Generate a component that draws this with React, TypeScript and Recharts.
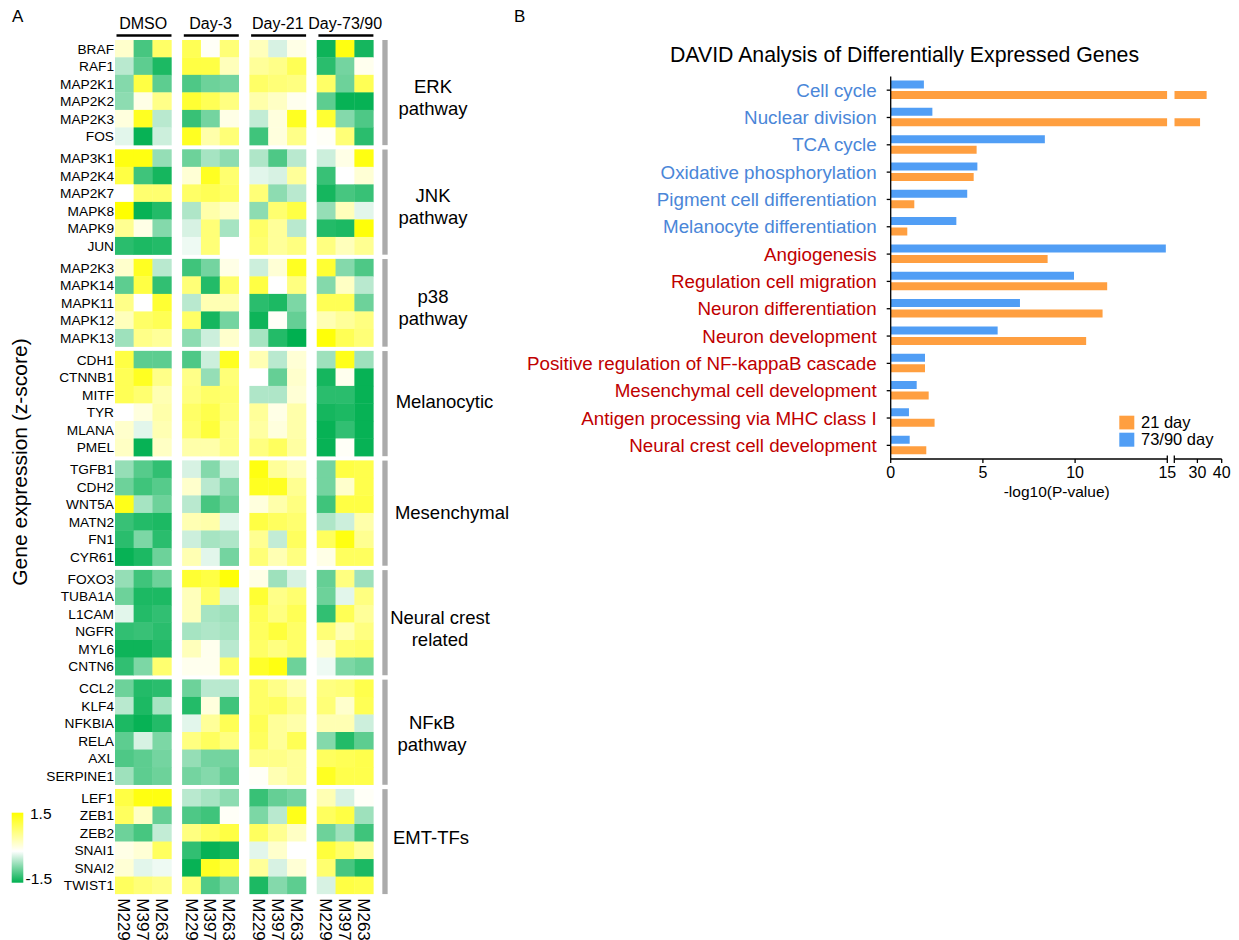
import React from 'react';
import { ScatterChart, Scatter, XAxis, YAxis, BarChart, Bar } from 'recharts';

const FONT = '"Liberation Sans", Arial, Helvetica, sans-serif';

// ---------------- Panel A data ----------------
const conditions = ['DMSO', 'Day-3', 'Day-21', 'Day-73/90'];
const samples = ['M229', 'M397', 'M263'];
const pathwayLabels = [
  ['ERK', 'pathway'],
  ['JNK', 'pathway'],
  ['p38', 'pathway'],
  ['Melanocytic'],
  ['Mesenchymal'],
  ['Neural crest', 'related'],
  ['NFκB', 'pathway'],
  ['EMT-TFs'],
];

const erkGenes = ['BRAF', 'RAF1', 'MAP2K1', 'MAP2K2', 'MAP2K3', 'FOS'];
const erkValues = [
  [0.3, -1.0, 0.9, 1.0, 0.05, 0.8, 0.4, -0.15, 0.15, -1.4, 1.4, -1.35],
  [-0.3, -0.85, -1.3, 1.1, 1.1, 0.4, 0.6, 0.7, 1.0, -1.2, -0.7, 0.1],
  [-0.6, 1.1, -0.85, -0.95, -0.75, -0.7, 0.9, 0.8, 0.75, 0.9, -0.75, 1.0],
  [-0.55, 0.15, 0.7, 1.2, 1.0, 0.75, 0.5, 0.35, 0.1, -0.85, -1.45, -1.45],
  [0.2, 1.3, -0.3, -1.1, -0.7, 0.15, -0.25, 0.2, 1.3, 1.2, -0.6, -0.95],
  [-0.1, -1.45, -0.2, 1.3, 0.5, 0.8, -1.05, 0.2, 0.7, 0.05, 0.8, -1.2],
];

const jnkGenes = ['MAP3K1', 'MAP2K4', 'MAP2K7', 'MAPK8', 'MAPK9', 'JUN'];
const jnkValues = [
  [1.4, 1.4, -0.5, -0.75, -0.4, -0.55, -0.35, -0.95, -0.3, -0.2, 0.15, 1.4],
  [1.1, -1.05, -1.35, 0.25, 1.3, 0.85, -0.1, -0.15, 0.6, -1.1, 0, 0.25],
  [0, 0.85, 0.85, 0.9, 1.0, 0.9, 0.8, -0.55, -0.3, -1.35, -1.0, -1.1],
  [1.5, -1.45, -1.25, -0.35, 0.5, 0.35, -0.55, 0.85, 1.1, -0.5, 0.4, -0.1],
  [0.65, 0.15, -0.6, -0.15, 0.8, -0.4, 0.9, 0.6, -0.3, -1.25, -1.3, 1.45],
  [-1.2, -1.3, -1.25, -0.05, 0.8, 0, 0.85, 0.6, 0.75, 0.75, 0.4, 0.65],
];

const p38Genes = ['MAP2K3', 'MAPK14', 'MAPK11', 'MAPK12', 'MAPK13'];
const p38Values = [
  [0.3, 1.3, -0.3, -1.05, -0.7, 0.15, -0.2, 0.25, 1.3, 1.2, -0.6, -0.95],
  [-0.85, 1.1, -1.15, 0.8, -1.25, 0.9, 1.1, 0, 0.75, -0.6, 0.35, -0.3],
  [0.7, 0, 1.2, -0.3, 0.45, 0.45, -1.2, -1.3, -0.65, 1.0, 1.0, -0.75],
  [0.4, 0.9, 1.0, 0.9, -1.35, -0.7, -1.4, 0.05, -0.8, 0.45, 0.6, 0.75],
  [-0.45, 0.7, 0.6, -0.55, -0.2, 0.3, -0.4, -1.25, -1.5, 1.45, 1.0, 0.8],
];

const melanocyticGenes = ['CDH1', 'CTNNB1', 'MITF', 'TYR', 'MLANA', 'PMEL'];
const melanocyticValues = [
  [1.1, -0.85, -0.85, -0.95, -0.2, 1.3, 0.45, -0.3, 0.25, -0.45, 1.35, -0.45],
  [1.0, 1.3, 0.7, 0.7, -0.5, 0.8, 0, -0.8, 0.3, -1.35, 0.1, -1.45],
  [1.0, 0.85, 0.45, 0.75, 0.9, 0.85, -0.35, -0.35, 0.25, -1.2, -1.2, -1.45],
  [0, 0.2, 0.5, 0.9, 1.05, 0.8, 0.6, 0.15, 0.5, -1.35, -1.3, -1.45],
  [0.3, -0.1, 0.45, 0.85, 1.15, 0.7, 0.55, 0.2, 0.5, -1.45, -1.15, -1.45],
  [0.35, -1.45, 0.35, 0.5, 0.5, 0.7, 0.75, 0.95, 0.55, -1.45, 0.05, -1.45],
];

const mesenchymalGenes = ['TGFB1', 'CDH2', 'WNT5A', 'MATN2', 'FN1', 'CYR61'];
const mesenchymalValues = [
  [-0.5, -0.9, -1.15, -0.15, -0.6, -0.2, 1.4, 0.6, 0.4, -0.7, 1.1, 1.05],
  [-0.75, -1.05, -0.9, 0.3, -0.3, -0.6, 1.3, 1.3, 0.65, -0.7, 0.3, 1.05],
  [1.35, -0.4, -0.75, -0.3, -1.0, -0.75, 0.2, 0.5, 0.75, -1.05, 1.1, 1.1],
  [-1.1, -1.25, -1.3, 0.45, 0.5, -0.1, 1.1, 0.95, 0.85, -0.35, -0.2, 0.5],
  [-1.2, -0.65, -1.2, -0.2, -0.4, -0.35, 0.65, -0.25, 0.95, 0.95, 1.4, 0.65],
  [-1.45, -1.3, -0.75, 0.45, -0.1, -0.7, 0.8, 0.45, 0.75, 0.15, 0.95, 0.95],
];

const neuralCrestGenes = ['FOXO3', 'TUBA1A', 'L1CAM', 'NGFR', 'MYL6', 'CNTN6'];
const neuralCrestValues = [
  [-0.5, -1.05, -0.75, 1.2, 1.1, 1.45, 0.15, -0.45, -0.15, -0.8, 0.75, -0.45],
  [-0.75, -1.3, -1.3, 0.4, 0.9, -0.15, 1.2, 0.7, 0.85, -0.75, -0.1, 0.75],
  [-0.1, -1.25, -1.15, 0.4, -0.4, -0.45, 1.0, 0.75, 1.0, -1.15, 1.0, 0.6],
  [-1.15, -1.1, -1.2, -0.4, -0.35, -0.4, 0.95, 1.15, 0.9, 0.8, 0.45, 0.75],
  [-1.4, -1.4, -1.25, 0.4, 0.1, -0.3, 0.9, 0.75, 0.9, 0.3, 0.85, 0.9],
  [-1.15, -0.65, 0.85, 0.1, 0.1, 0.9, 1.25, 1.4, -0.75, -0.05, -0.65, -0.75],
];

const nfkbGenes = ['CCL2', 'KLF4', 'NFKBIA', 'RELA', 'AXL', 'SERPINE1'];
const nfkbValues = [
  [-0.75, -1.25, -1.2, -0.75, -0.3, -0.3, 0.9, 0.7, 0.45, 0.75, 0.8, 1.05],
  [-0.3, -1.3, -0.4, -1.25, 0.2, -1.05, 0.9, 0.95, 0.7, 0.8, 0.3, 1.0],
  [-1.3, -1.45, -1.25, -0.1, 0.6, 1.0, 1.0, 0.6, 0.5, 0.45, 0.45, -0.2],
  [-0.85, -0.15, -0.65, 0.75, 0.95, 0.75, 0.95, 0.6, 1.0, -0.6, -1.25, -0.85],
  [-0.95, -0.85, -0.7, -0.5, -0.7, -0.7, 0.7, 0.7, 0.6, 0.95, 1.0, 1.05],
  [-0.45, -0.85, -0.75, -0.7, -0.6, -0.8, 0.05, 0.45, 0.6, 1.3, 1.05, 1.05],
];

const emtGenes = ['LEF1', 'ZEB1', 'ZEB2', 'SNAI1', 'SNAI2', 'TWIST1'];
const emtValues = [
  [1.1, 1.4, 1.4, -0.3, -0.4, -0.55, -1.1, -0.8, -0.7, 0.45, -0.15, 0.05],
  [0.95, 0.35, -0.8, -0.95, -1.05, 0.05, -0.65, -0.3, 1.35, 0.95, 1.1, -0.45],
  [-0.75, -1.0, -0.25, 0.75, 0.95, 1.1, 0.95, 0.65, 0.35, -0.75, -0.45, -1.05],
  [0.15, 0.25, 0.95, -1.15, -1.45, -1.35, -0.1, 0.3, 0, 1.15, 0.9, 0.6],
  [0.25, -0.1, -0.05, -1.45, 1.3, 1.1, 0.6, -0.15, 0.25, 0.85, -1.0, -1.3],
  [0.95, 0.8, 0.7, 0.8, -0.95, -0.7, -1.3, -0.6, -0.85, -0.15, 1.1, 1.05],
];

const geneGroups = [
  { genes: erkGenes, values: erkValues },
  { genes: jnkGenes, values: jnkValues },
  { genes: p38Genes, values: p38Values },
  { genes: melanocyticGenes, values: melanocyticValues },
  { genes: mesenchymalGenes, values: mesenchymalValues },
  { genes: neuralCrestGenes, values: neuralCrestValues },
  { genes: nfkbGenes, values: nfkbValues },
  { genes: emtGenes, values: emtValues },
];

// ---------------- Panel B data ----------------
const goTerms = [
  'Cell cycle',
  'Nuclear division',
  'TCA cycle',
  'Oxidative phosphorylation',
  'Pigment cell differentiation',
  'Melanocyte differentiation',
  'Angiogenesis',
  'Regulation cell migration',
  'Neuron differentiation',
  'Neuron development',
  'Positive regulation of NF-kappaB cascade',
  'Mesenchymal cell development',
  'Antigen processing via MHC class I',
  'Neural crest cell development',
];
const day21Values = [33.8, 31.1, 4.66, 4.5, 1.28, 0.9, 8.51, 11.74, 11.49, 10.6, 1.86, 2.06, 2.38, 1.93];
const day7390Values = [1.8, 2.26, 8.36, 4.7, 4.15, 3.56, 14.92, 9.94, 7.01, 5.8, 1.86, 1.41, 0.99, 1.03];
const downregulatedTermCount = 6; // first terms are drawn in blue text
const lowAxisTicks = [0, 5, 10, 15];
const highAxisTicks = [20.5, 30, 40];

// ---------------- styles / layout constants ----------------
const ROW_GAP = 0.25;
const GROUP_STRIDE = 3.575;
const X_MAX = 14.5;
const BAR_X = 14.34;
const CELL_W = 18.83;
const CELL_H = 17.524;
const BLUE = '#519EF5';
const ORANGE = '#FF9F40';
const BLUE_TEXT = '#4A86D8';
const RED_TEXT = '#C00000';
const pathwayLabelDx = [45, 45, 45, 56.5, 64, 52, 44, 43];
const pathwayLabelDy = [0, 0, 0, 4, 6, 1, -3, 2];

const key = (v: number) => v.toFixed(3);

const heatColor = (v: number) => {
  const t = Math.max(-1, Math.min(1, v / 1.5));
  if (t >= 0) {
    return `rgb(255,255,${Math.round(255 * (1 - t))})`;
  }
  const a = Math.pow(-t, 0.8);
  return `rgb(${Math.round(255 - 255 * a)},${Math.round(255 - 79 * a)},${Math.round(255 - 175 * a)})`;
};

// build heatmap structures
const heatCells: any[] = [];
const geneTicks: number[] = [];
const geneTickNames = new Map<string, string>();
const groupTicks: number[] = [];
const groupTickLabels = new Map<string, number>();
const grayBars: any[] = [];
let cursor = 0;
geneGroups.forEach((grp, gi) => {
  grp.genes.forEach((gene, ri) => {
    const yc = cursor + ri + 0.5;
    geneTicks.push(yc);
    geneTickNames.set(key(yc), gene);
    grp.values[ri].forEach((v, k) => {
      const cond = Math.floor(k / 3);
      const s = k % 3;
      heatCells.push({ x: cond * GROUP_STRIDE + s + 0.5, y: yc, v, gene, sample: samples[s], condition: conditions[cond] });
    });
  });
  const center = cursor + grp.genes.length / 2;
  groupTicks.push(center);
  groupTickLabels.set(key(center), gi);
  grayBars.push({ x: BAR_X, y: center, n: grp.genes.length });
  cursor += grp.genes.length + ROW_GAP;
});
const Y_MAX = cursor - ROW_GAP;

const sampleTicks: number[] = [];
const sampleTickNames = new Map<string, string>();
const headerTicks: number[] = [];
const headerTickNames = new Map<string, string>();
conditions.forEach((c, ci) => {
  samples.forEach((s, si) => {
    const x = ci * GROUP_STRIDE + si + 0.5;
    sampleTicks.push(x);
    sampleTickNames.set(key(x), s);
  });
  const hx = ci * GROUP_STRIDE + 1.5;
  headerTicks.push(hx);
  headerTickNames.set(key(hx), c);
});

const barRows = goTerms.map((term, i) => ({
  term,
  late: day7390Values[i],
  early: Math.min(day21Values[i], 15),
  earlyHi: day21Values[i] > 15 ? day21Values[i] : null,
  lateHi: null,
}));

// ---------------- custom renderers ----------------
const HeatCell = (props: any) => {
  const { cx, cy, payload } = props;
  return (
    <rect
      x={cx - CELL_W / 2 - 0.2}
      y={cy - CELL_H / 2 - 0.2}
      width={CELL_W + 0.4}
      height={CELL_H + 0.4}
      fill={heatColor(payload.v)}
    />
  );
};

const GrayBar = (props: any) => {
  const { cx, cy, payload } = props;
  const h = payload.n * CELL_H;
  return <rect x={cx - 2.65} y={cy - h / 2} width={5.3} height={h} fill="#ABABAB" />;
};

const HeaderTick = (props: any) => {
  const { x, y, payload } = props;
  const half = 1.5 * CELL_W;
  return (
    <g>
      <text x={x} y={y - 10.7} textAnchor="middle" fontSize={16} fill="#000" fontFamily={FONT}>
        {headerTickNames.get(key(payload.value))}
      </text>
      <line x1={x - half + 1.5} x2={x + half} y1={y - 4.5} y2={y - 4.5} stroke="#000" strokeWidth={2.3} />
    </g>
  );
};

const SampleTick = (props: any) => {
  const { x, y, payload } = props;
  return (
    <text
      x={x}
      y={y}
      dy="0.36em"
      transform={`rotate(90, ${x}, ${y})`}
      textAnchor="start"
      fontSize={17}
      fill="#000"
      fontFamily={FONT}
    >
      {sampleTickNames.get(key(payload.value))}
    </text>
  );
};

const PathwayTick = (props: any) => {
  const { x, y, payload } = props;
  const gi = groupTickLabels.get(key(payload.value)) as number;
  const lines = pathwayLabels[gi];
  const cx = x + pathwayLabelDx[gi];
  const by = y + pathwayLabelDy[gi];
  return (
    <text x={cx} y={by} textAnchor="middle" fontSize={18.5} fill="#000" fontFamily={FONT}>
      {lines.map((ln, i) => (
        <tspan key={i} x={cx} y={by + i * 22}>
          {ln}
        </tspan>
      ))}
    </text>
  );
};

const TermTick = (props: any) => {
  const { x, y, payload } = props;
  const idx = goTerms.indexOf(payload.value);
  return (
    <text
      x={x}
      y={y}
      dy="0.355em"
      textAnchor="end"
      fontSize={18.8}
      fill={idx < downregulatedTermCount ? BLUE_TEXT : RED_TEXT}
      fontFamily={FONT}
    >
      {payload.value}
    </text>
  );
};

const makeValueTick = (breakValue: number, hideValue: number | null) => (props: any) => {
  const { x, y, payload } = props;
  const axisY = y - 8;
  return (
    <g>
      {payload.value === breakValue ? (
        <line x1={x} x2={x} y1={axisY - 3.5} y2={axisY} stroke="#000" strokeWidth={1.3} />
      ) : null}
      {payload.value === hideValue ? null : (
        <text x={x} y={y} dy="0.71em" textAnchor="middle" fontSize={16} fill="#000" fontFamily={FONT}>
          {payload.value}
        </text>
      )}
    </g>
  );
};

const LowTick = makeValueTick(15, null);
const HighTick = makeValueTick(20.5, 20.5);

export default function App() {
  return (
    <div
      style={{
        position: 'absolute',
        left: 0,
        top: 0,
        width: 1239,
        height: 940,
        background: '#fff',
        fontFamily: FONT,
        overflow: 'hidden',
      }}
    >
      <svg width={1239} height={940} style={{ position: 'absolute', left: 0, top: 0 }}>
        <defs>
          <linearGradient id="zgrad" x1="0" y1="0" x2="0" y2="1">
            <stop offset="0%" stopColor="#FFFF00" />
            <stop offset="55%" stopColor="#FFFFFF" />
            <stop offset="100%" stopColor="#00B050" />
          </linearGradient>
        </defs>
        <text x={12} y={22} fontSize={17} fill="#000" fontFamily={FONT}>A</text>
        <text x={514} y={22} fontSize={17} fill="#000" fontFamily={FONT}>B</text>
        <text x={904.5} y={62.3} fontSize={21.3} textAnchor="middle" fill="#000" fontFamily={FONT}>
          DAVID Analysis of Differentially Expressed Genes
        </text>
        <text
          x={20}
          y={462}
          dy="0.35em"
          transform="rotate(-90, 20, 462)"
          textAnchor="middle"
          fontSize={21}
          fill="#000"
          fontFamily={FONT}
        >
          Gene expression (z-score)
        </text>
        <rect x={11.7} y={812.7} width={11.6} height={70} fill="url(#zgrad)" />
        <text x={30} y={819.3} fontSize={15.5} fill="#000" fontFamily={FONT}>1.5</text>
        <text x={25.5} y={884} fontSize={15.5} fill="#000" fontFamily={FONT}>-1.5</text>
        <text x={1056.7} y={496.7} textAnchor="middle" fontSize={15.5} fill="#000" fontFamily={FONT}>
          -log10(P-value)
        </text>
        <rect x={1119.3} y={415.7} width={15} height={13.7} fill={ORANGE} />
        <rect x={1119.3} y={432.7} width={15} height={14} fill={BLUE} />
        <text x={1141} y={428.3} fontSize={16.5} fill="#000" fontFamily={FONT}>21 day</text>
        <text x={1141} y={445} fontSize={16.5} fill="#000" fontFamily={FONT}>73/90 day</text>
      </svg>

      <div style={{ position: 'absolute', left: 40, top: 0 }}>
        <ScatterChart width={470} height={940} margin={{ top: 0, right: 0, bottom: 0, left: 0 }}>
          <XAxis
            xAxisId="main"
            type="number"
            dataKey="x"
            domain={[0, X_MAX]}
            allowDataOverflow
            ticks={sampleTicks}
            interval={0}
            height={45.7}
            tickLine={false}
            axisLine={false}
            tickSize={0}
            tickMargin={4}
            tick={(p: any) => <SampleTick {...p} />}
          />
          <XAxis
            xAxisId="top"
            orientation="top"
            type="number"
            dataKey="x"
            domain={[0, X_MAX]}
            allowDataOverflow
            ticks={headerTicks}
            interval={0}
            height={40}
            tickLine={false}
            axisLine={false}
            tickSize={0}
            tickMargin={0}
            tick={(p: any) => <HeaderTick {...p} />}
          />
          <YAxis
            yAxisId="main"
            type="number"
            dataKey="y"
            domain={[0, Y_MAX]}
            reversed
            allowDataOverflow
            ticks={geneTicks}
            interval={0}
            width={75}
            tickLine={false}
            axisLine={false}
            tickSize={0}
            tickMargin={1}
            tickFormatter={(v: number) => geneTickNames.get(key(v)) || ''}
            tick={{ fill: '#000', fontSize: 13.7, fontFamily: FONT }}
          />
          <YAxis
            yAxisId="right"
            orientation="right"
            type="number"
            dataKey="y"
            domain={[0, Y_MAX]}
            reversed
            allowDataOverflow
            ticks={groupTicks}
            interval={0}
            width={122}
            tickLine={false}
            axisLine={false}
            tickSize={0}
            tickMargin={0}
            tick={(p: any) => <PathwayTick {...p} />}
          />
          <Scatter xAxisId="main" yAxisId="main" data={heatCells} shape={HeatCell} isAnimationActive={false} />
          <Scatter xAxisId="top" yAxisId="right" data={grayBars} shape={GrayBar} isAnimationActive={false} />
        </ScatterChart>
      </div>

      <div style={{ position: 'absolute', left: 520, top: 60 }}>
        <BarChart
          width={660}
          height={460}
          layout="vertical"
          data={barRows}
          barGap={2.5}
          margin={{ top: 16.5, right: 12.7, bottom: 20, left: 0 }}
        >
          <XAxis
            type="number"
            domain={[0, 15]}
            allowDataOverflow
            ticks={lowAxisTicks}
            interval={0}
            height={41}
            tickSize={4}
            tickMargin={4}
            axisLine={{ stroke: '#000', strokeWidth: 1.3 }}
            tickLine={{ stroke: '#000', strokeWidth: 1.3 }}
            tick={(p: any) => <LowTick {...p} />}
          />
          <YAxis
            type="category"
            dataKey="term"
            width={370.7}
            interval={0}
            tickSize={4}
            tickMargin={10}
            axisLine={{ stroke: '#000', strokeWidth: 1.3 }}
            tickLine={{ stroke: '#000', strokeWidth: 1.3 }}
            tick={(p: any) => <TermTick {...p} />}
          />
          <Bar dataKey="late" fill={BLUE} barSize={8} isAnimationActive={false} />
          <Bar dataKey="early" fill={ORANGE} barSize={8} isAnimationActive={false} />
        </BarChart>
      </div>

      <div style={{ position: 'absolute', left: 1170, top: 60 }}>
        <BarChart
          width={69}
          height={460}
          layout="vertical"
          data={barRows}
          barGap={2.5}
          margin={{ top: 16.5, right: 17.3, bottom: 20, left: 4.3 }}
        >
          <XAxis
            type="number"
            domain={[20.5, 40]}
            allowDataOverflow
            ticks={highAxisTicks}
            interval={0}
            height={41}
            tickSize={4}
            tickMargin={4}
            axisLine={{ stroke: '#000', strokeWidth: 1.3 }}
            tickLine={{ stroke: '#000', strokeWidth: 1.3 }}
            tick={(p: any) => <HighTick {...p} />}
          />
          <YAxis type="category" dataKey="term" hide />
          <Bar dataKey="lateHi" fill={BLUE} barSize={8} isAnimationActive={false} />
          <Bar dataKey="earlyHi" fill={ORANGE} barSize={8} isAnimationActive={false} />
        </BarChart>
      </div>
    </div>
  );
}
